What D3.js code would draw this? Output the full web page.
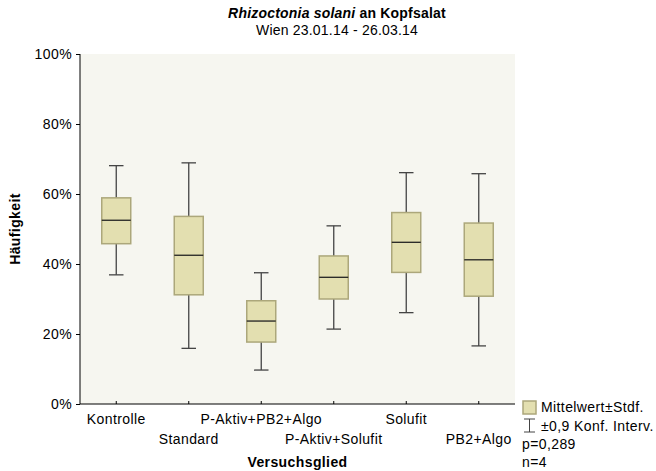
<!DOCTYPE html>
<html>
<head>
<meta charset="utf-8">
<script src="https://cdn.jsdelivr.net/npm/d3@7"></script>
<style>
  body { margin: 0; background: #fff; }
  text { font-family: "Liberation Sans", Arial, sans-serif; letter-spacing: 0.4px; }
</style>
</head>
<body>
<svg id="chart" width="656" height="471"></svg>
<script>
// Versuchsglieder
const categories = ["Kontrolle", "Standard", "P-Aktiv+PB2+Algo", "P-Aktiv+Solufit", "Solufit", "PB2+Algo"];
// Mittelwert (%)
const means = [52.5, 42.5, 23.7, 36.2, 46.2, 41.2];
// Mittelwert ± Stdf.
const boxLow = [45.8, 31.2, 17.7, 30.0, 37.6, 30.8];
const boxHigh = [58.9, 53.6, 29.5, 42.3, 54.7, 51.7];
// ±0,9 Konf. Interv.
const ciLow = [36.9, 15.9, 9.7, 21.4, 26.1, 16.6];
const ciHigh = [68.1, 68.9, 37.5, 50.9, 66.1, 65.8];
const yTicks = [0, 20, 40, 60, 80, 100];

const margin = {left: 80, right: 141, top: 54, bottom: 67};
const W = 656, H = 471;

const svg = d3.select("#chart");

const x = d3.scaleBand()
            .domain(categories)
            .range([margin.left, W - margin.right])
            .padding(0);

const y = d3.scaleLinear()
            .domain([0, 100])
            .range([H - margin.bottom, margin.top]);

// plot background
svg.append("rect")
   .attr("x", margin.left)
   .attr("y", margin.top)
   .attr("width", W - margin.right - margin.left)
   .attr("height", H - margin.bottom - margin.top)
   .attr("fill", "#f6f6f0");

// title
const title = svg.append("text")
                 .attr("x", 337)
                 .attr("y", 18)
                 .attr("text-anchor", "middle")
                 .attr("font-size", "14px")
                 .attr("font-weight", "bold")
                 .style("letter-spacing", "0.2px");
title.append("tspan").attr("font-style", "italic").text("Rhizoctonia solani");
title.append("tspan").text(" an Kopfsalat");

svg.append("text")
   .attr("x", 337)
   .attr("y", 35)
   .attr("text-anchor", "middle")
   .attr("font-size", "14px")
   .style("letter-spacing", "0.2px")
   .text("Wien 23.01.14 - 26.03.14");

// y axis
const yAxis = svg.append("g")
                 .attr("transform", "translate(" + margin.left + ",0)")
                 .call(d3.axisLeft(y).tickValues(yTicks).tickSize(4).tickPadding(4)
                         .tickFormat(d => d + "%"));
yAxis.select(".domain").attr("d", "M0," + y(100) + "V" + y(0)).attr("stroke", "#000");
yAxis.selectAll("text").attr("font-size", "14px").attr("fill", "#000");

// x axis
const xAxis = svg.append("g")
                 .attr("transform", "translate(0," + y(0) + ")")
                 .call(d3.axisBottom(x).tickSize(-3).tickFormat(""));
xAxis.select(".domain").attr("d", "M" + margin.left + ",0H" + (W - margin.right)).attr("stroke", "#000");

svg.selectAll(".xlabel")
   .data(categories)
   .enter()
   .append("text")
   .attr("class", "xlabel")
   .attr("x", d => x(d) + x.bandwidth() / 2)
   .attr("y", (d, i) => i % 2 === 0 ? 424 : 444)
   .attr("text-anchor", "middle")
   .attr("font-size", "14px")
   .text(d => d);

svg.append("text")
   .attr("x", (margin.left + W - margin.right) / 2)
   .attr("y", 467)
   .attr("text-anchor", "middle")
   .attr("font-size", "14px")
   .attr("font-weight", "bold")
   .text("Versuchsglied");

svg.append("text")
   .attr("transform", "translate(20," + (margin.top + H - margin.bottom) / 2 + ") rotate(-90)")
   .attr("text-anchor", "middle")
   .attr("font-size", "14px")
   .attr("font-weight", "bold")
   .text("Häufigkeit");

// boxes
const boxW = x.bandwidth() * 0.4;
const capW = x.bandwidth() * 0.2;

const g = svg.selectAll(".box")
             .data(categories)
             .enter()
             .append("g")
             .attr("class", "box")
             .attr("transform", d => "translate(" + (x(d) + x.bandwidth() / 2) + ",0)");

g.append("line")
 .attr("y1", (d, i) => y(ciHigh[i]))
 .attr("y2", (d, i) => y(ciLow[i]))
 .attr("stroke", "#444")
 .attr("stroke-width", 1.3);

g.selectAll(".cap")
 .data((d, i) => [ciLow[i], ciHigh[i]])
 .enter()
 .append("line")
 .attr("class", "cap")
 .attr("x1", -capW / 2)
 .attr("x2", capW / 2)
 .attr("y1", v => y(v))
 .attr("y2", v => y(v))
 .attr("stroke", "#444")
 .attr("stroke-width", 1.3);

g.append("rect")
 .attr("x", -boxW / 2)
 .attr("width", boxW)
 .attr("y", (d, i) => y(boxHigh[i]))
 .attr("height", (d, i) => y(boxLow[i]) - y(boxHigh[i]))
 .attr("fill", "#e3dfb0")
 .attr("stroke", "#aca77b")
 .attr("stroke-width", 1.5);

g.append("line")
 .attr("x1", -boxW / 2)
 .attr("x2", boxW / 2)
 .attr("y1", (d, i) => y(means[i]))
 .attr("y2", (d, i) => y(means[i]))
 .attr("stroke", "#222")
 .attr("stroke-width", 1.3);

// legend
const lg = svg.append("g");
lg.append("rect")
  .attr("x", 523).attr("y", 401)
  .attr("width", 13).attr("height", 13)
  .attr("fill", "#e3dfb0")
  .attr("stroke", "#aca77b")
  .attr("stroke-width", 1.5);
lg.append("text")
  .attr("x", 541).attr("y", 412)
  .attr("font-size", "14px")
  .text("Mittelwert±Stdf.");
lg.append("path")
  .attr("d", "M524,419H535M529.5,419V432M524,432H535")
  .attr("stroke", "#444")
  .attr("fill", "none");
lg.append("text")
  .attr("x", 541).attr("y", 431)
  .attr("font-size", "14px")
  .text("±0,9 Konf. Interv.");
lg.append("text")
  .attr("x", 522).attr("y", 449)
  .attr("font-size", "14px")
  .text("p=0,289");
lg.append("text")
  .attr("x", 522).attr("y", 467)
  .attr("font-size", "14px")
  .text("n=4");
</script>
</body>
</html>
